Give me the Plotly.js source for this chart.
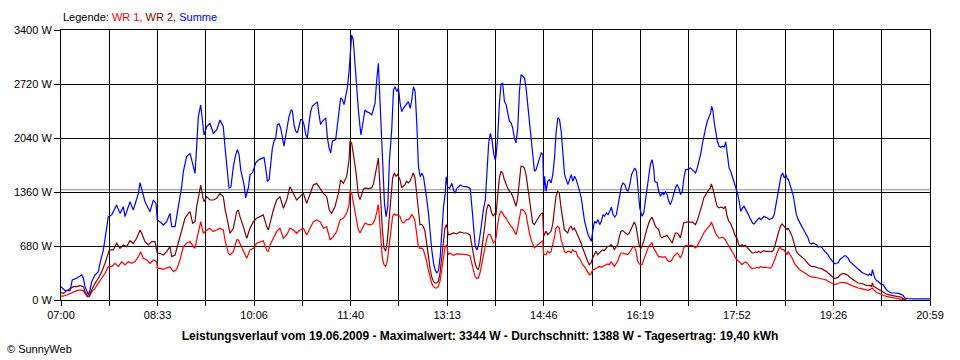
<!DOCTYPE html>
<html>
<head>
<meta charset="utf-8">
<script src="https://cdn.plot.ly/plotly-3.0.1.min.js"></script>
<style>html,body{margin:0;padding:0;background:#fff;}#chart{width:960px;height:360px;}</style>
</head>
<body>
<div id="chart"></div>
<script>
// ---- axis labels ----
const timeLabels = ['07:00','08:33','10:06','11:40','13:13','14:46','16:19','17:52','19:26','20:59'];
const spanMinutes = 839;            // 07:00 .. 20:59
const yTicks = [0, 680, 1360, 2040, 2720, 3400];
const averageW = 1388;
const titleText = 'Leistungsverlauf vom 19.06.2009 - Maximalwert: 3344 W - Durchschnitt: 1388 W - Tagesertrag: 19,40 kWh';

// ---- Summe (blue): minutes after 07:00 / W ----
const sumMinutes = [
  0,4,8.7,10.9,15,20,21.6,23.2,26.4,28,
  29.6,32.8,36,37.6,40.9,44.1,45.7,48.9,52.1,53.7,
  57,60.2,61.8,66.6,69.8,74.7,76.3,77.9,81.1,85.9,
  89.2,91.7,93,95.6,98.8,102,105.2,106.9,110.1,113.3,
  116.5,118.1,121.3,124.6,127.8,129.4,131,132.6,134.9,136.8,
  138.1,140.7,143.8,147.1,150.3,153.5,156.7,158.3,160.6,162.2,
  164,166.4,168.7,170.3,171.9,173.5,176.7,178.3,180.9,182.5,
  184.8,186.4,188,191.2,194.4,196,197.6,199.2,200.9,202.5,
  204.1,205.7,207.3,208.9,210.5,212.1,213.7,215.3,216.9,218.5,
  220.2,222.4,223.4,225,226.6,228.2,229.8,231.4,233,234.6,
  236.3,237.9,239.5,241.1,242.7,244.3,247.5,249.1,250.7,252.3,
  255.6,257.2,258.8,260.4,262,265.2,266.8,268.4,270,271.6,
  273.3,274.9,276.5,278.1,
  279,280.6,282.2,283.8,285.5,287.1,288.7,289.6,291.9,293.5,
  295.1,298.4,300,301.6,303.2,304.8,306.4,307.4,308.7,310.6,
  312.3,313.9,315.5,317.1,319.3,321,322.6,324.2,325.8,327.4,
  329,330.6,333.8,335.4,337.1,338.7,340.3,341.9,343.5,345.1,
  346.8,348.4,350,351.6,353.2,354.8,356.4,358,359.7,361.3,
  362.9,364.5,366.1,367.7,369.3,371,371.9,373.2,375.2,377.4,
  379,380.6,382.2,385.5,388.7,391.9,395.1,396.7,398.4,400,
  401.6,403.2,404.8,406.4,408,409.7,411.3,412.9,414.5,416.1,
  417.7,419.3,
  420,421.6,423.2,424.8,426.4,428.1,429.7,431.3,432.9,434.5,
  436.1,437.7,439.3,441,442.6,444.2,445.8,447.4,449,450.6,
  452.3,453.9,455.5,457.1,458.7,460.3,462,463.6,465.2,466.1,
  466.8,468.4,470,471.6,473.2,474.8,476.5,478.1,479.7,481.3,
  482.9,484.5,486.2,487.8,489.4,491,492.6,494.2,495.8,497.5,
  499.1,500.7,502.3,503.9,505.5,507.2,508.8,510.4,512,513.6,
  515.2,516.8,518.5,520.1,521.7,523.3,524.9,526.5,528.2,529.8,
  531.4,533,534.6,536.2,537.8,539.5,541.1,542.7,544.3,545.9,
  547.5,549.2,550.8,552.4,554,555.6,557.2,558.8,560.5,
  561,562.6,564.2,565.8,567.4,569,570.6,572.2,573.2,575.5,
  577.1,578.8,580.4,582,583.6,585.2,586.8,588.4,590.1,591.7,
  593.3,594.9,596.5,598.1,599.8,601.4,603,604.6,606.2,607.8,
  609.4,611.1,612.7,614.3,615.9,617.5,619.1,620.7,622.4,624,
  625.6,627.2,628.2,629.5,630.5,632.1,633.7,635.3,636.9,638.5,
  640.2,641.8,643.4,645,646.6,648.2,649.8,651.5,653.1,654.7,
  656.3,657.9,659.5,661.2,662.8,664.4,666,667.6,669.2,670.8,
  672.5,674.1,675.7,677.3,678.9,680.5,682.1,683.8,685.4,687,
  688.6,690.2,691.8,693.5,695.1,696.7,698.3,699.9,701.5,
  702,703.6,705.2,706.8,708.4,710,711.7,713.3,714.9,716.5,
  718.1,719.7,721.3,722.9,724.5,726.1,727.7,729.4,731,732.6,
  734.2,735.8,737.4,739,740.6,742.2,743.8,745.4,747.1,748.7,
  750.3,751.9,753.5,755.1,756.7,758.3,759.9,761.5,763.1,764.8,
  766.4,768,769.6,771.2,772.8,774.4,776,777.6,779.2,780.8,
  782.5,783.4,784.4,785.7,787.3,788.9,790.5,792.1,793.7,795.3,
  796.9,798.5,800.2,801.8,805,808.2,809.8,811.4,813,814.6,
  817.9,824.3,830.7,839
];
const sumWatts = [
  168,118,118,252,273,315,273,168,63,126,
  231,315,357,462,630,924,1050,1071,1154,1196,
  1091,1175,1050,1238,1133,1343,1478,1385,1238,1112,
  1259,1217,1007,986,944,986,1091,924,924,1175,
  1427,1616,1805,1847,1679,1595,1931,2309,2456,2183,
  2078,2183,2225,2099,2141,2267,2183,1931,1621,1411,
  1420,1679,1831,1894,1830,1642,1453,1285,1411,1579,
  1600,1663,1726,1768,1789,1795,1663,1495,1516,1747,
  1915,1999,2041,2209,2218,2167,2020,1936,2062,2209,
  2314,2398,2377,2209,2125,2104,2188,2272,2272,2209,
  2083,2041,2230,2377,2441,2461,2495,2335,2209,2251,
  2293,2041,1915,1852,1999,2020,2209,2419,2545,2524,
  2461,2566,2671,2881,
  3022,3337,3274,2939,2687,2393,2183,2078,2267,2393,
  2372,2351,2330,2393,2477,2771,2981,2687,2267,1763,
  1217,1049,1175,1763,2141,2645,2687,2624,2666,2477,
  2372,2414,2477,2498,2414,2519,2687,2624,2225,1679,
  1553,1595,1553,1427,1259,1091,840,630,462,378,
  336,378,546,924,1175,1343,1553,1427,1406,1469,
  1385,1343,1406,1448,1427,1427,1406,1175,924,672,
  630,693,840,1007,1154,1259,1553,1973,2099,2015,
  1847,1763,
  1810,2041,2461,2713,2734,2503,2461,2335,2251,2230,
  2167,2041,1978,2167,2629,2839,2818,2797,2671,2461,
  2251,2041,1831,1621,1642,1705,1789,1852,1831,1369,
  1558,1369,1495,1516,1474,1579,1789,2125,2293,2272,
  2125,1852,1579,1516,1453,1516,1579,1495,1558,1516,
  1453,1369,1285,1117,991,907,823,781,739,886,
  991,970,1012,949,991,1075,1054,1096,1075,1117,
  1168,1075,1042,1075,1201,1327,1432,1474,1453,1390,
  1369,1453,1579,1621,1663,1621,1369,1159,1075,
  1054,1096,1243,1453,1579,1705,1768,1663,1495,1474,
  1369,1306,1348,1327,1369,1327,1243,1201,1264,1348,
  1411,1453,1411,1327,1369,1537,1642,1642,1655,1663,
  1642,1621,1600,1663,1747,1831,1957,2083,2167,2251,
  2293,2356,2440,2377,2251,2125,1999,1936,1924,1936,
  1924,1991,1789,1663,1621,1558,1495,1411,1348,1243,
  1117,1159,1180,1138,1096,1054,1012,970,958,991,
  1012,1033,1012,1033,1054,1042,1033,1012,1021,1033,
  1075,1201,1327,1453,1558,1600,1537,1579,1516,
  1529,1453,1411,1327,1201,1075,1012,970,928,907,
  865,823,781,718,706,718,706,697,664,676,
  668,634,613,592,571,529,508,487,454,466,
  466,508,529,550,559,550,529,487,466,445,
  424,403,391,370,353,340,328,319,311,328,
  311,382,319,277,244,235,214,193,193,151,
  130,109,97,88,88,88,80,67,59,25,
  17,13,13,13
];

// ---- WR 2 (dark red) ----
const wr2Minutes = [
  0,2.3,5.5,8.7,11.9,15.1,18.3,21.6,23.2,25.4,
  27.4,29.6,32.8,36,39.3,42.5,44.7,46.7,50.5,53.7,
  57,60.2,63.4,66.6,69.8,73.1,76.3,77.9,81.1,84.3,
  87.6,90.8,93,95.6,98.8,102,105.2,106.9,110.1,113.3,
  116.5,119.7,122.9,124.6,127.1,129.4,131,132.6,134.9,136.8,
  138.1,140.7,143.8,147.1,150.3,153.5,156.7,158.3,161.6,163.2,
  166.4,169.6,171.2,172.8,176,179.3,182.5,185.7,188.9,192.1,
  195.3,198.6,200.2,201.8,205,208.2,211.4,214.7,217.9,221.1,
  224.3,227.5,230.7,234,237.2,240.4,243.6,246.8,250.1,253.3,
  256.5,259,261.3,264.5,267.8,270,272.6,275.8,278.1,
  279,280.6,282.2,283.8,285.4,287,288.7,290.3,291.9,293.5,
  296.7,299.9,301.5,303.1,304.7,306.4,307.3,308.6,310.2,311.8,
  313.4,315,316.7,318.3,320.2,321.8,323.4,325,327.3,328.9,
  330.5,332.1,333.7,335.3,336.9,338.5,340.1,341.8,343.4,345,
  346.6,348.2,349.8,351.4,353,354.6,356.2,357.8,359.5,361.1,
  362.7,364.3,365.9,367.5,369.1,370.7,372.3,373.9,375.5,378.8,
  382,385.2,388.4,391.6,394.8,396.5,398.1,399.7,401.3,402.9,
  404.5,406.1,407.7,409.3,410.9,412.5,414.2,415.8,417.4,419,
  420,421.6,423.2,424.8,426.4,428,429.7,431.3,432.9,434.5,
  436.1,437.7,439.3,440.9,442.5,444.1,445.7,447.4,449,450.6,
  452.2,453.8,455.4,457,458.6,460.2,461.8,463.4,465.1,466,
  468.3,469.9,471.5,473.1,474.7,476.3,477.9,479.5,481.1,482.8,
  484.4,486,487.6,489.2,490.8,492.4,494,495.6,497.2,498.8,
  500.5,502.1,503.7,505.3,506.9,508.5,510.1,511.7,513.3,514.9,
  516.5,518.1,519.8,521.4,523,524.6,526.2,527.8,529.4,531,
  532.6,534.2,535.8,537.5,539.1,540.7,542.3,543.9,545.5,547.1,
  548.7,550.3,551.9,553.5,555.2,556.8,558.4,560,
  561,562.6,564.2,565.8,567.4,569,570.6,572.2,573.9,575.5,
  577.1,578.7,580.3,581.9,583.5,585.1,586.7,588.4,590,591.6,
  593.2,594.8,596.4,598,599.6,601.2,602.8,604.4,606.1,607.7,
  609.3,610.9,612.5,614.1,615.7,617.3,619,620.6,622.2,623.8,
  625.4,627,627.9,629.2,630.2,631.8,633.4,635,636.6,638.2,
  639.8,641.4,643.1,644.7,646.3,647.9,649.5,651.1,652.7,654.3,
  655.9,657.5,659.1,660.8,662.4,664,665.6,667.2,668.8,670.4,
  672,673.6,675.2,676.9,678.5,680.1,681.7,683.3,684.9,686.5,
  688.1,689.7,691.3,693,694.6,696.2,697.8,699.4,701,
  702,703.6,705.2,706.8,708.4,710,711.7,713.3,714.9,716.5,
  718.1,719.7,721.3,722.9,724.5,727.7,731,734.2,737.4,739,
  740.6,742.2,743.8,745.4,747.1,748.7,750.3,751.9,753.5,755.1,
  756.7,758.3,759.9,761.5,763.1,764.8,766.4,768,769.6,772.8,
  774.4,776,777.6,780.8,782.5,783.4,784.4,785.7,787.3,788.9,
  790.5,792.1,795.3,796.9,798.5,801.8,805,808.2,811.4,813,
  814.6,816.2
];
const wr2Watts = [
  92,84,118,147,168,168,181,168,105,50,
  50,126,210,273,357,462,567,630,630,714,
  651,693,672,747,714,777,882,840,735,693,
  735,735,588,588,567,609,672,546,567,714,
  882,1029,1091,1112,966,987,1175,1301,1448,1301,
  1238,1301,1259,1259,1280,1343,1301,1154,924,840,
  903,1112,1133,1050,924,777,903,987,1029,1050,
  1071,924,882,966,1133,1259,1301,1154,1259,1427,
  1343,1259,1301,1343,1217,1343,1448,1469,1406,1343,
  1301,1133,1091,1175,1343,1511,1469,1553,1763,
  1999,1978,1852,1705,1537,1327,1264,1327,1390,1411,
  1403,1411,1453,1558,1663,1789,1579,1243,907,655,
  613,739,1033,1327,1537,1600,1558,1579,1516,1411,
  1432,1453,1495,1474,1495,1558,1600,1537,1327,1117,
  949,949,928,865,739,571,403,298,235,214,
  214,235,340,529,739,907,949,823,823,844,
  832,857,844,844,823,697,571,466,403,382,
  466,613,781,949,1138,1201,1180,1096,1054,1096,
  1075,1327,1537,1621,1600,1516,1453,1411,1369,1348,
  1306,1243,1180,1285,1495,1684,1684,1663,1579,1411,
  1243,1096,970,949,991,1012,1054,1084,1096,802,
  865,823,844,865,949,1117,1306,1369,1348,1159,
  991,886,865,844,907,928,886,907,865,823,
  760,718,655,592,529,487,445,466,529,571,
  613,571,592,613,634,622,655,676,676,697,
  676,634,664,697,802,865,874,857,844,823,
  844,886,949,983,928,781,676,647,
  676,739,823,907,970,1012,1042,991,928,907,
  886,802,781,802,802,815,781,739,718,781,
  844,844,823,781,886,970,979,983,983,979,
  983,970,949,991,1054,1117,1201,1285,1327,1369,
  1390,1411,1462,1411,1348,1264,1180,1159,1159,1168,
  1151,1180,1054,991,970,928,865,802,781,697,
  676,697,676,689,664,634,613,592,592,605,
  596,613,596,613,622,613,609,613,613,609,
  634,697,781,865,928,958,928,907,886,
  907,865,823,760,676,613,580,563,550,529,
  508,479,454,437,424,420,403,395,370,361,
  340,319,298,286,269,277,286,311,328,332,
  332,319,311,286,269,256,235,227,214,210,
  202,193,185,181,172,214,172,164,151,130,
  118,109,88,76,67,59,55,46,34,17,
  4,0
];

// ---- WR 1 (red) ----
const wr1Minutes = [
  0,2.3,5.5,8.7,11.9,15.1,18.3,21.6,23.2,25.4,
  27.4,29.6,32.8,36,39.3,42.5,45.7,48.9,52.1,55.4,
  58.6,61.8,65,68.2,71.5,74.7,76.9,79.5,82.7,85.9,
  89.2,92.4,93,95.6,98.8,102,105.2,108.5,111.7,114.9,
  118.1,121.3,124.6,127.8,129.4,131,132.6,134.9,137.4,140.7,
  143.8,147.1,150.3,153.5,156.7,158.3,161.6,163.2,166.4,169.6,
  171.2,172.8,176,179.3,182.5,185.7,188.9,192.1,195.3,198.6,
  200.2,201.8,205,208.2,211.4,214.7,217.9,221.1,224.3,227.5,
  230.7,234,237.2,240.4,243.6,246.8,250.1,253.3,256.5,259.7,
  262.9,266.1,269.4,272.6,275.8,278.1,
  279,280.6,282.2,283.8,285.4,287,288.7,290.3,291.9,293.5,
  296.7,299.9,301.5,303.1,304.7,306.4,307.3,308.6,310.2,311.8,
  313.4,315,316.7,318.3,320.2,321.8,323.4,325,327.3,328.9,
  330.5,332.1,333.7,335.3,336.9,338.5,340.1,341.8,343.4,345,
  346.6,348.2,349.8,351.4,353,354.6,356.2,357.8,359.5,361.1,
  362.7,364.3,365.9,367.5,369.1,370.7,372.3,373.9,375.5,377.1,
  378.8,382,385.2,388.4,391.6,394.8,396.5,398.1,399.7,401.3,
  402.9,404.5,406.1,407.7,409.3,410.9,412.5,414.2,415.8,417.4,
  419,
  420,421.6,423.2,424.8,426.4,428,429.7,431.3,432.9,434.5,
  436.1,437.7,439.3,440.9,442.5,444.1,445.7,447.4,449,450.6,
  452.2,453.8,455.4,457,458.6,460.2,461.8,463.4,465.1,466,
  468.3,469.9,471.5,473.1,474.7,476.3,477.9,479.5,481.1,482.8,
  484.4,486,487.6,489.2,490.8,492.4,494,495.6,497.2,498.8,
  500.5,502.1,503.7,505.3,506.9,508.5,510.1,511.7,513.3,514.9,
  516.5,518.1,519.8,521.4,523,524.6,526.2,527.8,529.4,531,
  532.6,534.2,535.8,537.5,539.1,540.7,542.3,543.9,545.5,547.1,
  548.7,550.3,551.9,553.5,555.2,556.8,558.4,560,
  561,562.6,564.2,565.8,567.4,569,570.6,572.2,573.9,575.5,
  577.1,578.7,580.3,581.9,583.5,585.1,586.7,588.4,590,591.6,
  593.2,594.8,596.4,598,599.6,601.2,602.8,604.4,606.1,607.7,
  609.3,610.9,612.5,614.1,615.7,617.3,619,620.6,622.2,623.8,
  625.4,627,627.9,629.2,630.2,631.8,633.4,635,636.6,638.2,
  639.8,641.4,643.1,644.7,646.3,647.9,649.5,651.1,652.7,654.3,
  655.9,657.5,659.1,660.8,662.4,664,665.6,667.2,668.8,670.4,
  672,673.6,675.2,676.9,678.5,680.1,681.7,683.3,684.9,686.5,
  688.1,689.7,691.3,693,694.6,696.2,697.8,699.4,701,
  702,703.6,705.2,706.8,708.4,710,711.7,713.3,714.9,716.5,
  718.1,719.7,721.3,722.9,724.5,727.7,731,734.2,737.4,739,
  740.6,742.2,743.8,745.4,747.1,748.7,750.3,751.9,753.5,756.7,
  758.3,759.9,761.5,763.1,764.8,766.4,768,769.6,772.8,774.4,
  776,779.2,780.8,782.5,783.4,784.4,785.7,787.3,788.9,790.5,
  792.1,793.7,796.9,798.5,800.1,801.8,805,808.2,813,814.6
];
const wr1Watts = [
  50,50,63,84,105,118,126,118,84,42,
  42,105,147,210,273,336,420,420,462,420,
  483,441,483,462,483,546,609,525,504,462,
  504,483,399,399,386,399,420,357,386,504,
  672,714,735,672,651,756,840,987,840,882,
  903,861,882,903,882,756,588,567,609,756,
  756,714,609,525,630,651,714,735,747,630,
  609,693,777,861,903,777,819,903,882,840,
  882,903,819,903,987,1008,987,903,924,756,
  798,861,1008,1029,1091,1196,
  1369,1348,1243,1117,991,886,844,886,949,970,
  949,949,970,1012,1096,1201,1054,781,529,445,
  424,487,697,907,1054,1084,1067,1075,1054,991,
  970,991,1012,1012,1033,1075,1054,991,823,676,
  647,655,634,571,487,382,277,214,172,151,
  151,172,235,361,529,655,697,571,592,580,
  563,580,580,580,571,559,466,361,298,269,
  277,340,445,571,676,760,823,832,781,718,
  739,
  781,949,1075,1117,1096,1054,1033,991,949,928,
  907,865,823,907,1054,1138,1138,1117,1075,949,
  844,760,697,655,676,697,718,739,748,571,
  571,613,592,613,697,781,907,928,907,760,
  697,613,592,613,613,592,634,613,613,550,
  529,487,445,424,382,361,319,328,382,382,
  403,403,424,412,424,437,445,454,445,479,
  454,424,454,487,550,592,592,580,580,571,
  592,634,664,676,613,487,454,445,
  445,508,571,634,676,697,718,655,613,571,
  542,550,538,542,542,508,487,487,508,550,
  571,592,571,529,571,655,685,685,689,685,
  689,676,655,676,718,760,815,844,874,899,
  928,949,983,949,907,844,802,781,781,790,
  781,760,718,676,647,613,580,529,508,479,
  454,445,466,479,466,437,412,395,395,403,
  412,403,420,412,412,412,412,403,403,424,
  466,529,592,647,664,634,634,592,571,
  613,580,550,508,454,424,403,382,370,361,
  340,328,311,298,290,286,277,269,256,252,
  235,227,214,206,193,202,206,214,223,218,
  214,206,193,185,172,164,160,151,143,139,
  130,122,130,143,151,130,109,97,88,76,
  67,59,46,42,34,25,17,13,4,0
];

// ---- build ticks from the label arrays ----
const gridCount = (timeLabels.length - 1) * 2;       // 18 grid intervals
const xTickVals = [], xTickText = [];
for (let i = 0; i <= gridCount; i++) {
  xTickVals.push(spanMinutes * i / gridCount);
  xTickText.push(i % 2 === 0 ? timeLabels[i / 2] : '');
}

const FONT = 'Arial, "Liberation Sans", sans-serif';
const mk = (x, y, color) => ({
  x: x, y: y, type: 'scatter', mode: 'lines',
  line: {color: color, width: 1.2, shape: 'linear'},
  hoverinfo: 'skip'
});

const traces = [
  mk(wr1Minutes, wr1Watts, '#ff0000'),
  mk(wr2Minutes, wr2Watts, '#800000'),
  mk(sumMinutes, sumWatts, '#0000ff')
];

const layout = {
  width: 960, height: 360,
  margin: {l: 61, r: 30, t: 30, b: 60, pad: 0},
  paper_bgcolor: '#ffffff', plot_bgcolor: '#ffffff',
  font: {family: FONT, size: 11, color: '#000000'},
  showlegend: false,
  xaxis: {
    range: [0, spanMinutes], tickmode: 'array', tickvals: xTickVals, ticktext: xTickText,
    showgrid: true, gridcolor: '#000000', gridwidth: 1,
    showline: true, linecolor: '#000000', linewidth: 1, mirror: true,
    ticks: 'outside', ticklen: 5, tickcolor: '#000000', tickwidth: 1,
    zeroline: false, fixedrange: true, tickfont: {family: FONT, size: 11, color: '#000'}
  },
  yaxis: {
    range: [0, 3400], tickmode: 'array', tickvals: yTicks, ticktext: yTicks.map(v => v + ' W'),
    showgrid: true, gridcolor: '#000000', gridwidth: 1,
    showline: true, linecolor: '#000000', linewidth: 1, mirror: true,
    ticks: 'outside', ticklen: 6, tickcolor: '#000000', tickwidth: 1,
    zeroline: false, fixedrange: true, tickfont: {family: FONT, size: 11, color: '#000'}
  },
  shapes: [{
    type: 'line', xref: 'x', yref: 'y', x0: 0, x1: spanMinutes, y0: averageW, y1: averageW,
    line: {color: '#8c8c8c', width: 1}, layer: 'below'
  }],
  title: {
    text: '<b>' + titleText + '</b>',
    font: {family: FONT, size: 12, color: '#000'},
    xref: 'container', yref: 'container', x: 0.5, xanchor: 'center', y: 0.067, yanchor: 'middle'
  },
  annotations: [
    {
      xref: 'paper', yref: 'paper', x: 0.0, y: 1.048, xanchor: 'left', yanchor: 'middle',
      showarrow: false, font: {family: FONT, size: 11, color: '#000'},
      text: 'Legende: <span style="color:#ff0000">WR 1, </span><span style="color:#800000">WR 2, </span><span style="color:#0000ff">Summe</span>'
    },
    {
      xref: 'paper', yref: 'paper', x: -0.064, y: -0.183, xanchor: 'left', yanchor: 'middle',
      showarrow: false, font: {family: FONT, size: 11, color: '#000'},
      text: '© SunnyWeb'
    }
  ]
};

Plotly.newPlot('chart', traces, layout, {staticPlot: true, displayModeBar: false});
</script>
</body>
</html>
